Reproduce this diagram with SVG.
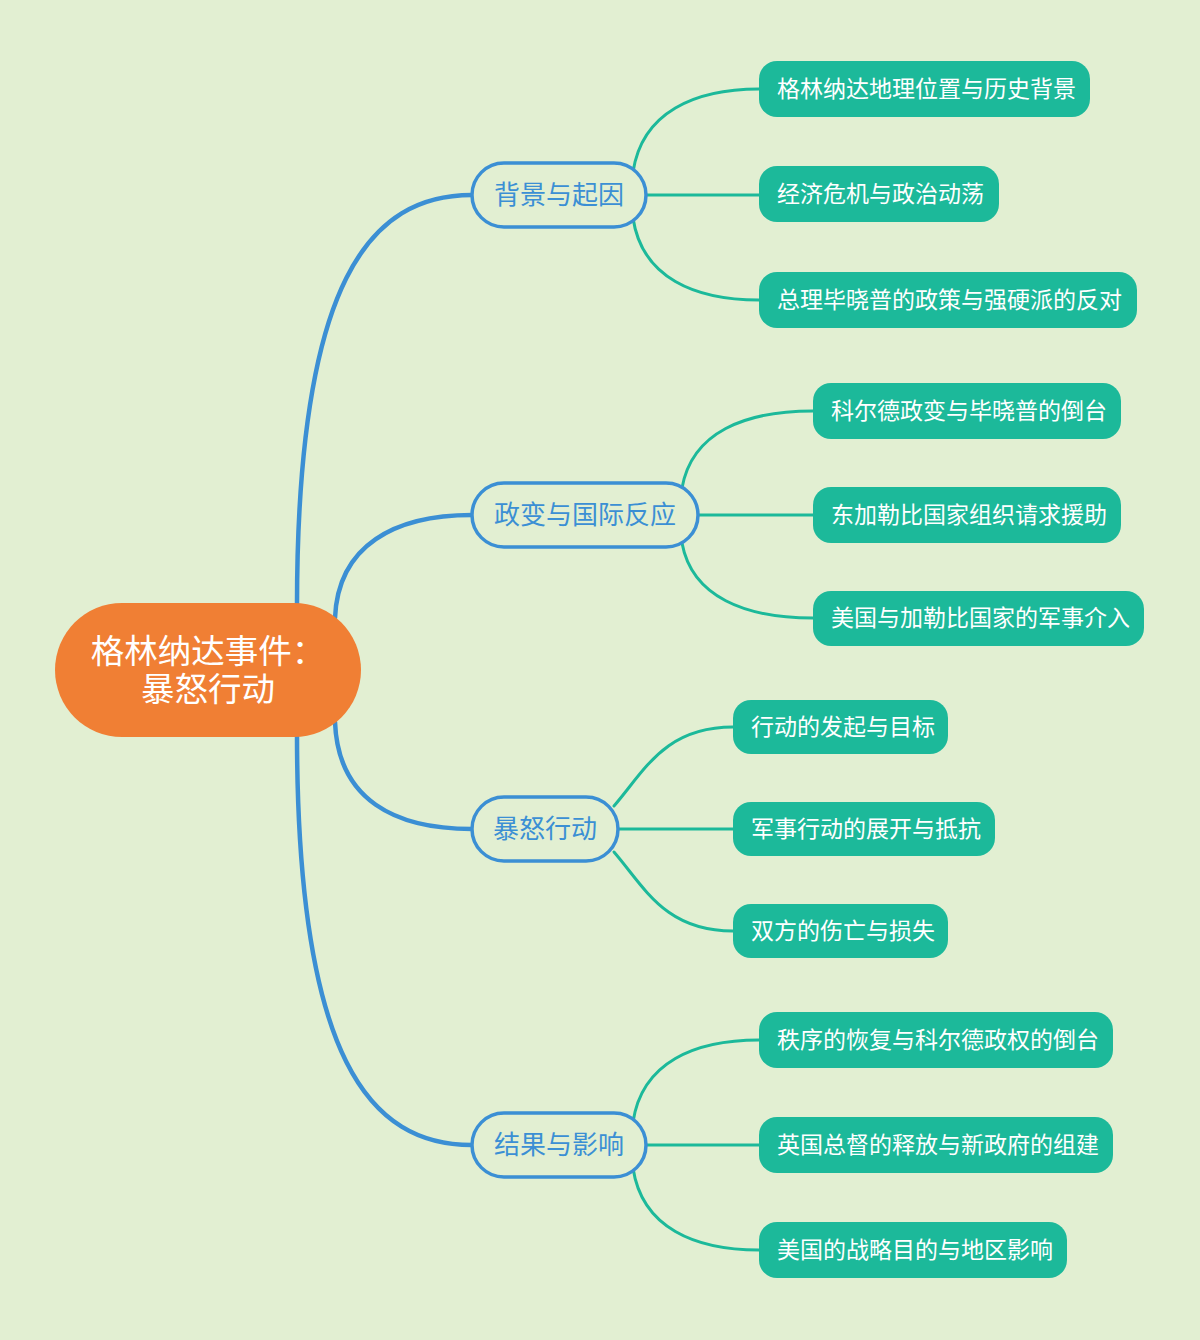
<svg xmlns="http://www.w3.org/2000/svg" width="1200" height="1340" viewBox="0 0 1200 1340">
<style>
.bg{fill:#e2efd2}
.t{font-family:"Noto Sans CJK SC","Noto Sans",sans-serif}
.root rect{fill:#f07f34}
.root text{fill:#ffffff;font-size:33.5px;text-anchor:middle;font-family:"Liberation Sans","Noto Sans CJK SC",sans-serif}
.br rect{fill:#e2efd2;stroke:#3b8fd4;stroke-width:3.5}
.br text{fill:#3b8fd4;font-size:26px;text-anchor:middle}
.lf rect{fill:#1cb99a}
.lf text{fill:#ffffff;font-size:23px}
.c1 path{fill:none;stroke:#3b8fd4;stroke-width:4.5;stroke-linecap:round}
.c2 path{fill:none;stroke:#1cb99a;stroke-width:3;stroke-linecap:round}
</style>
<rect class="bg" x="0" y="0" width="1200" height="1340"/>
<g id="connectors">
  <g class="c1">
    <path d="M297,606 C297,280 370,195 472,195"/>
    <path d="M335,618 C338,545 395,515 472,515"/>
    <path d="M335,722 C338,800 395,829 472,829"/>
    <path d="M297,734 C297,1060 370,1145 472,1145"/>
  </g>
  <g class="c2">
    <path d="M633,172 C642,112 695,89 759,89"/>
    <path d="M646,195 L759,195"/>
    <path d="M633,218 C642,278 695,300 759,300"/>
    <path d="M682,488 C692,432 745,411 813,411"/>
    <path d="M698,515 L813,515"/>
    <path d="M682,543 C692,597 745,618 813,618"/>
    <path d="M614,806 C645,770 665,727 733,727"/>
    <path d="M618,829 L733,829"/>
    <path d="M614,852 C645,888 665,931 733,931"/>
    <path d="M633,1122 C642,1062 695,1040 759,1040"/>
    <path d="M646,1145 L759,1145"/>
    <path d="M633,1168 C642,1228 695,1250 759,1250"/>
  </g>
</g>
<g id="root" class="root">
  <rect x="55" y="603" width="306" height="134" rx="67"/>
  <text x="208" y="664"><tspan x="208" y="663">格林纳达事件：</tspan><tspan x="208" y="701">暴怒行动</tspan></text>
</g>
<g id="b1" class="br t"><rect x="472" y="163" width="174" height="64" rx="32"/><text x="559" y="204">背景与起因</text></g>
<g id="b2" class="br t"><rect x="472" y="483" width="226" height="64" rx="32"/><text x="585" y="524">政变与国际反应</text></g>
<g id="b3" class="br t"><rect x="472" y="797" width="146" height="64" rx="32"/><text x="545" y="838">暴怒行动</text></g>
<g id="b4" class="br t"><rect x="472" y="1113" width="174" height="64" rx="32"/><text x="559" y="1154">结果与影响</text></g>
<g id="l11" class="lf t"><rect x="759" y="61" width="331" height="56" rx="18"/><text x="777" y="97">格林纳达地理位置与历史背景</text></g>
<g id="l12" class="lf t"><rect x="759" y="166" width="240" height="56" rx="18"/><text x="777" y="202">经济危机与政治动荡</text></g>
<g id="l13" class="lf t"><rect x="759" y="272" width="378" height="56" rx="18"/><text x="777" y="308">总理毕晓普的政策与强硬派的反对</text></g>
<g id="l21" class="lf t"><rect x="813" y="383" width="308" height="56" rx="18"/><text x="831" y="419">科尔德政变与毕晓普的倒台</text></g>
<g id="l22" class="lf t"><rect x="813" y="487" width="308" height="56" rx="18"/><text x="831" y="523">东加勒比国家组织请求援助</text></g>
<g id="l23" class="lf t"><rect x="813" y="591" width="331" height="55" rx="18"/><text x="831" y="626">美国与加勒比国家的军事介入</text></g>
<g id="l31" class="lf t"><rect x="733" y="700" width="215" height="54" rx="18"/><text x="751" y="735">行动的发起与目标</text></g>
<g id="l32" class="lf t"><rect x="733" y="802" width="262" height="54" rx="18"/><text x="751" y="837">军事行动的展开与抵抗</text></g>
<g id="l33" class="lf t"><rect x="733" y="904" width="215" height="54" rx="18"/><text x="751" y="939">双方的伤亡与损失</text></g>
<g id="l41" class="lf t"><rect x="759" y="1012" width="354" height="56" rx="18"/><text x="777" y="1048">秩序的恢复与科尔德政权的倒台</text></g>
<g id="l42" class="lf t"><rect x="759" y="1117" width="354" height="56" rx="18"/><text x="777" y="1153">英国总督的释放与新政府的组建</text></g>
<g id="l43" class="lf t"><rect x="759" y="1222" width="308" height="56" rx="18"/><text x="777" y="1258">美国的战略目的与地区影响</text></g>
</svg>
